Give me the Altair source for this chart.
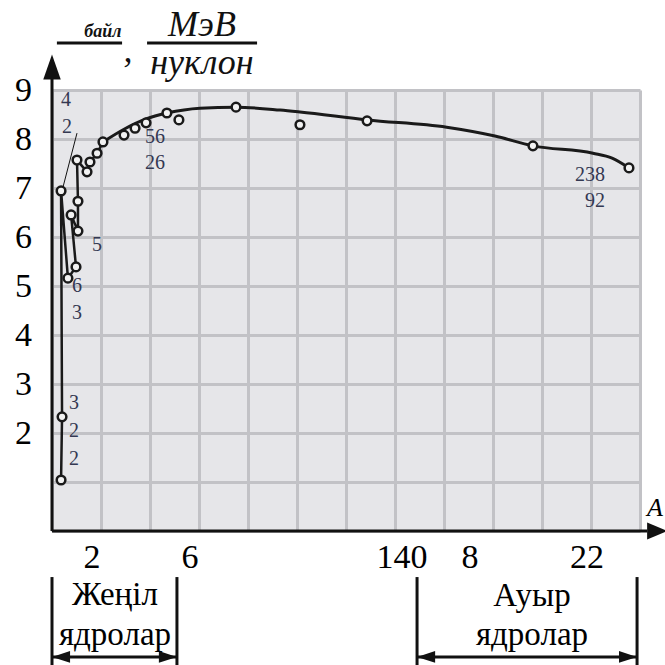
import altair as alt
import pandas as pd

# ---- measured points (A = mass number, E = binding energy per nucleon, MeV) ----
pt_A = [3.7, 4.1, 3.7, 6.5, 7.8, 9.8, 10.6, 10.6, 10.2, 14.3, 15.5, 18.4, 20.8,
        29.4, 33.9, 38.4, 46.9, 51.8, 75.1, 101.2, 128.6, 196.3, 235.5]
pt_E = [1.04, 2.33, 6.94, 5.16, 6.45, 5.39, 6.12, 6.73, 7.57, 7.33, 7.53, 7.71, 7.94,
        8.08, 8.22, 8.33, 8.53, 8.39, 8.65, 8.29, 8.37, 7.86, 7.41]

# jagged light-nuclei polyline, in drawing order
jag_A = [3.7, 4.1, 3.7, 6.5, 9.8, 7.8, 10.6, 10.6, 10.2, 14.3, 15.5, 18.4, 20.8]
jag_E = [1.04, 2.33, 6.94, 5.16, 5.39, 6.45, 6.12, 6.73, 7.57, 7.33, 7.53, 7.71, 7.94]

# smooth curve
cur_A = [20.8, 29.4, 38.4, 46.9, 60.4, 75.1, 93.1, 101.2, 128.6, 161.1, 180.8, 196.3, 220.8, 228.6, 235.5]
cur_E = [7.94, 8.20, 8.41, 8.53, 8.63, 8.65, 8.59, 8.55, 8.39, 8.24, 8.06, 7.86, 7.71, 7.61, 7.41]

# grid and y tick values
x_grid = list(range(0, 241, 20))
y_grid = list(range(0, 10))

# x tick labels as printed
xt_text = ["2", "6", "140", "8", "22"]
xt_A = [16.3, 56.3, 142.9, 170.6, 218.4]

# nuclide annotations
an_text = ["4", "2", "56", "26", "5", "6", "3", "3", "2", "2", "238", "92"]
an_A = [5.7, 6.1, 42.0, 42.0, 18.4, 10.2, 10.2, 9.0, 9.0, 9.0, 219.6, 221.6]
an_E = [8.80, 8.24, 8.04, 7.51, 5.84, 5.00, 4.45, 2.61, 2.04, 1.47, 7.26, 6.73]

# group labels under the axis
gl_text = ["Жеңіл", "ядролар", "Ауыр", "ядролар"]
gl_A = [25.7, 25.7, 195.9, 195.9]
gl_E = [-1.30, -2.12, -1.33, -2.12]

# title pieces
ti_text = [",", "МэВ", "нуклон"]
ti_A = [31.0, 61.2, 61.2]
ti_E = [9.80, 10.33, 9.55]
sub_text = ["байл"]
sub_A = [20.8]
sub_E = [10.18]

# line segments (axes, brackets, fraction bars, leader)
sg_x = [0, 0, 0, 51.0, 0, 149.0, 238.8, 149.0, 2.0, 38.8, 10.2]
sg_x2 = [243, 0, 0, 51.0, 51.0, 149.0, 238.8, 238.8, 28.6, 83.7, 4.5]
sg_y = [0, 0, -0.94, -0.94, -2.57, -0.94, -0.94, -2.57, 9.96, 9.96, 8.12]
sg_y2 = [0, 9.35, -2.75, -2.75, -2.57, -2.75, -2.75, -2.57, 9.96, 9.96, 7.02]
sg_w = [3, 3, 3, 3, 3, 3, 3, 3, 3, 3, 1]

# arrow heads
UP = "M0,-1L-0.7,1L0.7,1Z"
RIGHT = "M1,0L-1,-0.85L-1,0.85Z"
R2 = "M1,0L-1,-0.65L-1,0.65Z"
L2 = "M-1,0L1,-0.65L1,0.65Z"
ah_A = [0, 247.0, 3.7, 47.3, 152.7, 235.1]
ah_E = [9.47, 0, -2.57, -2.57, -2.57, -2.57]
ah_shape = [UP, RIGHT, L2, R2, L2, R2]
ah_size = [625, 400, 324, 324, 324, 324]

FONT = "Liberation Serif"
GRID = "#c2c2c6"
xs = alt.Scale(domain=[0, 240], nice=False, zero=False)
ys = alt.Scale(domain=[0, 9], nice=False, zero=False)
x_axis = alt.Axis(values=x_grid, grid=True, gridColor=GRID, gridWidth=3, labels=False,
                  ticks=False, domain=False, title=None)
y_axis = alt.Axis(values=y_grid, grid=True, gridColor=GRID, gridWidth=3,
                  labelExpr="datum.value >= 2 ? datum.label : ''",
                  labelFont=FONT, labelFontSize=34, labelColor="black",
                  labelAlign="center", labelBaseline="middle", labelPadding=29,
                  ticks=False, domain=False, title=None)


def X(f):
    return alt.X(f, type="quantitative", scale=xs, axis=x_axis)


def Y(f):
    return alt.Y(f, type="quantitative", scale=ys, axis=y_axis)


pts = pd.DataFrame({"A": pt_A, "E": pt_E})
jag = pd.DataFrame({"A": jag_A, "E": jag_E, "o": list(range(len(jag_A)))})
cur = pd.DataFrame({"A": cur_A, "E": cur_E})
xt = pd.DataFrame({"A": xt_A, "E": [-0.55] * len(xt_A), "t": xt_text})
an = pd.DataFrame({"A": an_A, "E": an_E, "t": an_text})
gl = pd.DataFrame({"A": gl_A, "E": gl_E, "t": gl_text})
ti = pd.DataFrame({"A": ti_A, "E": ti_E, "t": ti_text})
sub = pd.DataFrame({"A": sub_A, "E": sub_E, "t": sub_text})
sg = pd.DataFrame({"x": sg_x, "x2": sg_x2, "y": sg_y, "y2": sg_y2, "w": sg_w})
ah = pd.DataFrame({"A": ah_A, "E": ah_E, "shape": ah_shape, "size": ah_size})

jag_line = alt.Chart(jag).mark_line(color="#1a1a1a", strokeWidth=2.5).encode(
    x=X("A"), y=Y("E"), order="o:Q")
cur_line = alt.Chart(cur).mark_line(color="#1a1a1a", strokeWidth=3, interpolate="monotone").encode(
    x=X("A"), y=Y("E"))
circles = alt.Chart(pts).mark_point(shape="circle", filled=False, size=75, strokeWidth=2.5,
                                    color="#1a1a1a", fill="#f2f2f2", fillOpacity=1).encode(
    x=X("A"), y=Y("E"))

segs = alt.Chart(sg).mark_rule(color="#111111").encode(
    x=X("x"), x2="x2:Q", y=Y("y"), y2="y2:Q",
    strokeWidth=alt.StrokeWidth("w:Q", scale=None, legend=None))

heads = alt.Chart(ah).mark_point(filled=True, color="#111111", opacity=1).encode(
    x=X("A"), y=Y("E"),
    shape=alt.Shape("shape:N", scale=None, legend=None),
    size=alt.Size("size:Q", scale=None, legend=None))

xt_txt = alt.Chart(xt).mark_text(font=FONT, fontSize=34, color="black", baseline="middle").encode(
    x=X("A"), y=Y("E"), text="t:N")
an_txt = alt.Chart(an).mark_text(font=FONT, fontSize=20, color="#343852", baseline="middle").encode(
    x=X("A"), y=Y("E"), text="t:N")
gl_txt = alt.Chart(gl).mark_text(font=FONT, fontSize=33, color="black", baseline="middle").encode(
    x=X("A"), y=Y("E"), text="t:N")
ti_txt = alt.Chart(ti).mark_text(font=FONT, fontStyle="italic", fontSize=36, color="#111111",
                                 baseline="middle").encode(
    x=X("A"), y=Y("E"), text="t:N")
sub_txt = alt.Chart(sub).mark_text(font=FONT, fontStyle="italic", fontWeight="bold", fontSize=18,
                                   color="#111111", baseline="middle").encode(
    x=X("A"), y=Y("E"), text="t:N")
a_txt = alt.Chart(pd.DataFrame({"A": [242.9], "E": [0.47], "t": ["A"]})).mark_text(
    font=FONT, fontStyle="italic", fontSize=26, color="black", baseline="middle", align="left").encode(
    x=X("A"), y=Y("E"), text="t:N")

chart = alt.layer(jag_line, cur_line, circles, segs, heads, xt_txt, an_txt, gl_txt, ti_txt, sub_txt,
                  a_txt).properties(
    width=588, height=441, autosize="none",
    padding={"left": 52, "top": 90, "right": 25, "bottom": 134},
    background="white",
).configure_view(fill="#e6e6e9", stroke="transparent")

chart.save("out.html", embed_options={"renderer": "svg", "actions": False})
